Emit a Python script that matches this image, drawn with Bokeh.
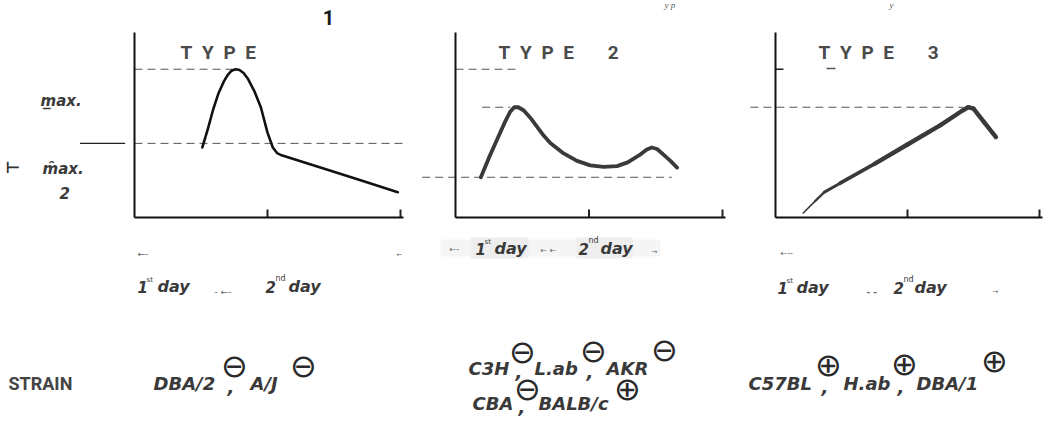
from bokeh.plotting import figure
from bokeh.models import LinearAxis, FixedTicker, Range1d, Label, BoxAnnotation
from bokeh.layouts import row
from bokeh.embed import file_html
from bokeh.resources import INLINE

# ---------------- data (days after stimulus, response as fraction of type-1 max) -------------
type1_day = [0.51, 0.55, 0.59, 0.63, 0.67, 0.70, 0.73, 0.76, 0.79, 0.82, 0.85, 0.90, 0.95, 1.00, 1.04, 1.075, 1.10, 1.38, 1.70, 1.98]
type1_resp = [0.47, 0.59, 0.72, 0.83, 0.91, 0.955, 0.985, 0.995, 0.99, 0.97, 0.935, 0.85, 0.74, 0.57, 0.47, 0.43, 0.42, 0.34, 0.25, 0.17]

type2_day = [0.19, 0.25, 0.31, 0.37, 0.41, 0.44, 0.47, 0.51, 0.56, 0.61, 0.66, 0.71, 0.81, 0.91, 1.01, 1.11, 1.21, 1.29, 1.38, 1.43, 1.47, 1.51, 1.56, 1.61, 1.66]
type2_resp = [0.27, 0.40, 0.52, 0.64, 0.71, 0.74, 0.74, 0.72, 0.67, 0.61, 0.55, 0.50, 0.43, 0.38, 0.35, 0.34, 0.345, 0.37, 0.42, 0.455, 0.47, 0.46, 0.42, 0.38, 0.335]

type3_day = [0.21, 0.30, 0.37, 0.49, 0.75, 1.00, 1.25, 1.42, 1.46, 1.50, 1.58, 1.67]
type3_resp = [0.03, 0.11, 0.17, 0.23, 0.36, 0.49, 0.62, 0.72, 0.74, 0.73, 0.64, 0.54]

x_ticks = [1, 2]
panel_titles = ["T\u2002Y\u2002P\u2002E", "T\u2002Y\u2002P\u2002E\u2003\u2002 2", "T\u2002Y\u2002P\u2002E\u2003\u2002 3"]
strains_type1 = ["DBA/2", "A/J"]
signs_type1 = ["\u2296", "\u2296"]
strains_type2a = ["C3H", "L.ab", "AKR"]
signs_type2a = ["\u2296", "\u2296", "\u2296"]
strains_type2b = ["CBA", "BALB/c"]
signs_type2b = ["\u2296", "\u2295"]
strains_type3 = ["C57BL", "H.ab", "DBA/1"]
signs_type3 = ["\u2295", "\u2295", "\u2295"]

# reference levels derived from the data
level_max = max(type1_resp)
level_half = level_max / 2
level_t2_peak = max(type2_resp)
level_t2_base = type2_resp[0]
level_t3_peak = max(type3_resp)

# ---------------- layout geometry ----------------
H = 434
W = [420, 320, 309]
LEFT = [0, 420, 740]
ORIGIN_X = [134, 455, 775]
PX_PER_DAY = [133, 133.5, 132]
ORIGIN_Y = 217
PX_PER_UNIT = 149
AXIS_TOP = 1.24
AXIS_RIGHT = 2.02

TXT = "#3a3a3a"
COND = "Roboto"
ITAL = "DejaVu Sans"

figs = []
for i in range(3):
    x0 = -(ORIGIN_X[i] - LEFT[i]) / PX_PER_DAY[i]
    x1 = x0 + W[i] / PX_PER_DAY[i]
    y0 = -(H - ORIGIN_Y) / PX_PER_UNIT
    y1 = ORIGIN_Y / PX_PER_UNIT
    p = figure(width=W[i], height=H, x_range=Range1d(x0, x1), y_range=Range1d(y0, y1),
               output_backend="svg", toolbar_location=None, x_axis_type=None, y_axis_type=None,
               min_border=0, outline_line_color=None, background_fill_color="white",
               border_fill_color="white")
    yax = LinearAxis(fixed_location=0, bounds=(0, AXIS_TOP), ticker=FixedTicker(ticks=[]),
                     major_tick_line_color=None, minor_tick_line_color=None,
                     axis_line_width=2, axis_line_color="#111")
    p.add_layout(yax, "left")
    xax = LinearAxis(fixed_location=0, bounds=(0, AXIS_RIGHT), ticker=FixedTicker(ticks=[]),
                     major_tick_line_color=None, minor_tick_line_color=None,
                     axis_line_width=2, axis_line_color="#111")
    p.add_layout(xax, "below")
    # inward tick marks at the day boundaries
    tick_h = 8 / PX_PER_UNIT
    p.segment(x0=x_ticks, y0=[0] * len(x_ticks), x1=x_ticks, y1=[tick_h] * len(x_ticks),
              line_width=2, line_color="#222")
    figs.append(p)

p1, p2, p3 = figs


def lab(i, X, Y, text, size=14, font=ITAL, style="bold italic", color=TXT, align="left",
        baseline="middle"):
    figs[i].add_layout(Label(x=X - LEFT[i], y=H - Y, x_units="screen", y_units="screen", text=text,
                             text_font=font, text_font_size=f"{size}px", text_font_style=style,
                             text_color=color, text_align=align, text_baseline=baseline))


def box(i, x0, x1, ytop, ybot, color):
    figs[i].add_layout(BoxAnnotation(left=x0 - LEFT[i], right=x1 - LEFT[i], top=H - ytop, bottom=H - ybot,
                                     left_units="screen", right_units="screen", top_units="screen",
                                     bottom_units="screen", fill_color=color, fill_alpha=1,
                                     line_color=None))


DASH = "8 5"
DCOL = "#555"

# ---------------- panel 1 ----------------
p1.segment(x0=[0, 0], y0=[level_max, level_half], x1=[0.74, AXIS_RIGHT], y1=[level_max, level_half],
           line_dash=DASH, line_width=1, line_color=DCOL)
p1.segment(x0=[-0.41], y0=[level_half], x1=[-0.07], y1=[level_half], line_width=1.3, line_color="#222")
p1.line(type1_day, type1_resp, line_width=2.6, line_color="#111", line_join="round", line_cap="round")

# ---------------- panel 2 ----------------
p2.segment(x0=[0, 0.20, -0.25], y0=[level_max, level_t2_peak, level_t2_base],
           x1=[0.46, 0.41, 1.62], y1=[level_max, level_t2_peak, level_t2_base],
           line_dash=DASH, line_width=1, line_color=DCOL)
p2.line(type2_day, type2_resp, line_width=3.8, line_color="#3a3a3a", line_join="round", line_cap="round")

# ---------------- panel 3 ----------------
p3.segment(x0=[-0.19], y0=[level_t3_peak], x1=[1.42], y1=[level_t3_peak],
           line_dash=DASH, line_width=1, line_color=DCOL)
p3.segment(x0=[0], y0=[level_max], x1=[8 / PX_PER_DAY[2]], y1=[level_max], line_width=1.5, line_color="#222")
n3 = len(type3_day) - 1
xs3 = [[type3_day[k], type3_day[k + 1]] for k in range(n3)]
ys3 = [[type3_resp[k], type3_resp[k + 1]] for k in range(n3)]
w3 = [1.6 + 2.8 * min(1.0, k / 4) for k in range(n3)]
p3.multi_line(xs3, ys3, line_width=w3, line_color="#3a3a3a", line_join="round", line_cap="round")

# ---------------- titles ----------------
lab(0, 180, 52, panel_titles[0], size=19, font=COND, style="bold", color="#4a4a4a")
lab(1, 498, 52, panel_titles[1], size=19, font=COND, style="bold", color="#4a4a4a")
lab(2, 818, 52, panel_titles[2], size=19, font=COND, style="bold", color="#4a4a4a")
p3.segment(x0=[(826 - ORIGIN_X[2]) / PX_PER_DAY[2]], y0=[(ORIGIN_Y - 68) / PX_PER_UNIT],
           x1=[(835 - ORIGIN_X[2]) / PX_PER_DAY[2]], y1=[(ORIGIN_Y - 68) / PX_PER_UNIT],
           line_width=1.5, line_color="#555")
lab(0, 328, 17, "1", size=20, font="Roboto", style="bold", color="#1a1a1a", align="center")
lab(1, 664, 4, "y p", size=9, font="Liberation Serif", style="italic", color="#555")
lab(2, 889, 4, "y", size=9, font="Liberation Serif", style="italic", color="#555")

# ---------------- y labels left of panel 1 ----------------
lab(0, 40, 100, "m\u0332ax.", size=15)
lab(0, 5, 167, "\u22a2", size=16, style="bold", color="#333")
lab(0, 42, 168, "m\u0311ax.", size=15)
lab(0, 59, 192, "2", size=15)

# ---------------- day labels ----------------
ARW = "#666"
# panel 1
lab(0, 137, 253, "\u2190\u2011", size=9, style="normal", color=ARW)
lab(0, 396, 254, "\u2190", size=7, style="normal", color=ARW)
lab(0, 137, 286, "1", size=15)
lab(0, 146, 279, "st", size=7, style="normal")
lab(0, 157, 286, "day", size=16)
lab(0, 214, 291, "\u2011 \u2190\u2011", size=9, style="normal", color=ARW)
lab(0, 265, 286, "2", size=15)
lab(0, 275, 278, "nd", size=8, style="normal")
lab(0, 288, 286, "day", size=16)
# panel 2
box(1, 440, 660, 239, 256, "#f5f5f5")
box(1, 470, 528, 237, 258, "#eeeeee")
box(1, 576, 632, 237, 258, "#eeeeee")
lab(1, 449, 249, "\u2190\u2011", size=8, style="normal", color=ARW)
lab(1, 475, 248, "1", size=15)
lab(1, 484, 241, "st", size=7, style="normal")
lab(1, 494, 248, "day", size=16)
lab(1, 540, 250, "\u2190 \u2190", size=8, style="normal", color=ARW)
lab(1, 578, 248, "2", size=15)
lab(1, 588, 240, "nd", size=8, style="normal")
lab(1, 600, 248, "day", size=16)
lab(1, 651, 251, "\u2192", size=7, style="normal", color=ARW)
# panel 3
lab(2, 780, 253, "\u2190\u2011\u2011", size=8, style="normal", color=ARW)
lab(2, 777, 287, "1", size=15)
lab(2, 786, 280, "st", size=7, style="normal")
lab(2, 796, 287, "day", size=16)
lab(2, 866, 291, "\u2011 \u2011", size=9, style="bold", color=ARW)
lab(2, 893, 287, "2", size=15)
lab(2, 903, 279, "nd", size=8, style="normal")
lab(2, 914, 287, "day", size=16)
lab(2, 992, 291, "\u2192", size=7, style="normal", color=ARW)

# ---------------- strains ----------------
SZ = 18
SG = 32
SGC = "#2a2a2a"


def sign(i, X, Y, s):
    lab(i, X, Y, s, size=SG, style="normal", color=SGC, align="center")


lab(0, 8, 383, "STRAIN", size=18, font=COND, style="bold", color="#444")
# type 1
lab(0, 153, 383, strains_type1[0], size=SZ)
lab(0, 227, 386, ",", size=SZ)
sign(0, 234, 365, signs_type1[0])
lab(0, 250, 383, strains_type1[1], size=SZ)
sign(0, 303, 365, signs_type1[1])
# type 2 row a
lab(1, 468, 368, strains_type2a[0], size=SZ)
lab(1, 515, 371, ",", size=SZ)
sign(1, 522, 351, signs_type2a[0])
lab(1, 534, 368, strains_type2a[1], size=SZ)
lab(1, 586, 371, ",", size=SZ)
sign(1, 593, 350, signs_type2a[1])
lab(1, 606, 368, strains_type2a[2], size=SZ)
sign(1, 664, 349, signs_type2a[2])
# type 2 row b
lab(1, 472, 403, strains_type2b[0], size=SZ)
lab(1, 518, 406, ",", size=SZ)
sign(1, 527, 388, signs_type2b[0])
lab(1, 538, 403, strains_type2b[1], size=SZ)
sign(1, 627, 388, signs_type2b[1])
# type 3
lab(2, 748, 383, strains_type3[0], size=SZ)
lab(2, 821, 386, ",", size=SZ)
sign(2, 828, 364, signs_type3[0])
lab(2, 843, 383, strains_type3[1], size=SZ)
lab(2, 897, 386, ",", size=SZ)
sign(2, 904, 363, signs_type3[1])
lab(2, 916, 383, strains_type3[2], size=SZ)
sign(2, 994, 360, signs_type3[2])

layout = row(p1, p2, p3, spacing=0)
open("out.html", "w").write(file_html(layout, INLINE))
